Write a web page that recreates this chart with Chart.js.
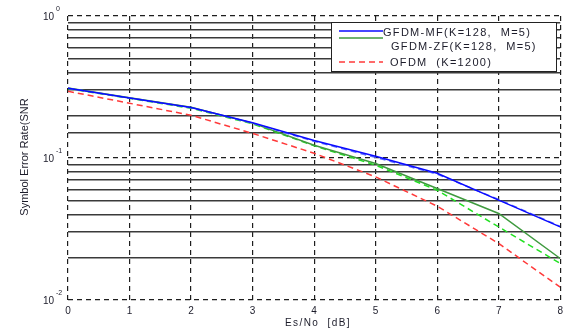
<!DOCTYPE html>
<html>
<head>
<meta charset="utf-8">
<script src="https://cdn.jsdelivr.net/npm/chart.js@4.4.1/dist/chart.umd.min.js"></script>
<style>
  html, body { margin: 0; padding: 0; background: #fff; }
  #wrap { width: 568px; height: 330px; }
</style>
</head>
<body>
<div id="wrap"><canvas id="chart" width="568" height="330"></canvas></div>
<script>
// values
const snrDb = [0, 1, 2, 3, 4, 5, 6, 7, 8];
const gfdmMf = [0.31, 0.265, 0.227, 0.177, 0.133, 0.103, 0.078, 0.0505, 0.0327];
const gfdmMfDashed = [0.31, 0.265, 0.226, 0.176, 0.131, 0.101, 0.077, 0.051, 0.033];
const gfdmZf = [0.311, 0.266, 0.228, 0.176, 0.123, 0.0915, 0.061, 0.0407, 0.0196];
const gfdmZfDashed = [0.308, 0.263, 0.224, 0.174, 0.122, 0.089, 0.0593, 0.0327, 0.0181];
const ofdm = [0.295, 0.243, 0.2, 0.149, 0.108, 0.0736, 0.0458, 0.025, 0.0123];

const yTickValues = [1, 0.1, 0.01];
const yTickExponents = ['0', '-1', '-2'];
const legendLabels = ['GFDM-MF(K=128,  M=5)', 'GFDM-ZF(K=128,  M=5)', 'OFDM  (K=1200)'];
const xTitle = 'Es/No  [dB]';
const yTitle = 'Symbol Error Rate(SNR';

const FONT = '"Liberation Sans", Arial, sans-serif';
const TEXT = '#1c1c2a';
const GRID = '#1e1e1e';

const isDecade = v => Math.abs(Math.log10(v) - Math.round(Math.log10(v))) < 1e-6;

function series(values) {
    return values.map((v, i) => ({ x: snrDb[i], y: v }));
}

const textPlugin = {
    id: 'textPlugin',
    afterDraw(chart) {
        const ctx = chart.ctx;
        const yScale = chart.scales.y;
        ctx.save();

        // y tick labels with superscripts
        ctx.fillStyle = TEXT;
        yTickValues.forEach((v, i) => {
            const py = yScale.getPixelForValue(v);
            ctx.font = '10px ' + FONT;
            ctx.textAlign = 'right';
            ctx.textBaseline = 'middle';
            ctx.fillText('10', 54, py + 1.5);
            ctx.font = '7px ' + FONT;
            ctx.textAlign = 'left';
            ctx.fillText(yTickExponents[i], 56, py - 7);
        });

        // axis titles
        ctx.font = '10px ' + FONT;
        ctx.letterSpacing = '1.4px';
        ctx.textAlign = 'center';
        ctx.textBaseline = 'middle';
        ctx.fillText(xTitle, 318, 323);

        ctx.letterSpacing = '0px';
        ctx.font = '11px ' + FONT;
        ctx.translate(25, 157);
        ctx.rotate(-Math.PI / 2);
        ctx.fillText(yTitle, 0, 0);
        ctx.setTransform(1, 0, 0, 1, 0, 0);

        // legend box
        ctx.fillStyle = '#fff';
        ctx.fillRect(331.5, 22.5, 225, 49);
        ctx.strokeStyle = '#222';
        ctx.lineWidth = 1;
        ctx.strokeRect(331.5, 22.5, 225, 49);

        const ds = chart.data.datasets;
        const rows = [
            { d: ds[0], ly: 31, tx: 383, ty: 33 },
            { d: ds[2], ly: 38, tx: 391, ty: 46.5 },
            { d: ds[4], ly: 62, tx: 390, ty: 62.5 }
        ];
        rows.forEach((r, i) => {
            ctx.strokeStyle = r.d.borderColor;
            ctx.lineWidth = 1.5;
            ctx.setLineDash(r.d.borderDash || []);
            ctx.beginPath();
            ctx.moveTo(339, r.ly);
            ctx.lineTo(383, r.ly);
            ctx.stroke();
            ctx.setLineDash([]);
            ctx.fillStyle = TEXT;
            ctx.font = '11px ' + FONT;
            ctx.letterSpacing = '1.3px';
            ctx.textAlign = 'left';
            ctx.textBaseline = 'middle';
            ctx.fillText(legendLabels[i], r.tx, r.ty);
        });
        ctx.restore();
    }
};

const ctx = document.getElementById('chart').getContext('2d');
new Chart(ctx, {
    type: 'line',
    data: {
        datasets: [
            { label: legendLabels[0], data: series(gfdmMf), borderColor: '#0a0aff', borderWidth: 1.5 },
            { label: 'GFDM-MF dashed', data: series(gfdmMfDashed), borderColor: '#5a6cff', borderWidth: 1.5, borderDash: [6, 4] },
            { label: legendLabels[1], data: series(gfdmZf), borderColor: '#3f9a3f', borderWidth: 1.5 },
            { label: 'GFDM-ZF dashed', data: series(gfdmZfDashed), borderColor: '#22e022', borderWidth: 1.5, borderDash: [6, 4] },
            { label: legendLabels[2], data: series(ofdm), borderColor: '#ff3a3a', borderWidth: 1.5, borderDash: [6, 4] }
        ]
    },
    options: {
        responsive: false,
        animation: false,
        layout: { padding: { top: 16, right: 6, left: 0, bottom: 0 } },
        elements: {
            point: { radius: 0 },
            line: { tension: 0, fill: false }
        },
        plugins: {
            legend: { display: false },
            tooltip: { enabled: false }
        },
        scales: {
            x: {
                type: 'linear',
                min: 0,
                max: 8,
                afterFit: s => { s.height = 30; },
                ticks: {
                    stepSize: 1,
                    color: TEXT,
                    font: { family: FONT, size: 10 },
                    padding: 5,
                    maxRotation: 0
                },
                grid: { color: GRID, lineWidth: 1.2, drawTicks: false },
                border: { display: false, dash: [5, 4] }
            },
            y: {
                type: 'logarithmic',
                min: 0.01,
                max: 1,
                afterFit: s => { s.width = 68; },
                ticks: { display: false, autoSkip: false },
                grid: {
                    color: c => (c.tick && isDecade(c.tick.value)) ? GRID : '#3a3a3a',
                    lineWidth: c => (c.tick && isDecade(c.tick.value)) ? 1.2 : 1.5,
                    drawTicks: false
                },
                border: {
                    display: false,
                    dash: c => (c.tick && isDecade(c.tick.value)) ? [5, 4] : []
                }
            }
        }
    },
    plugins: [textPlugin]
});
</script>
</body>
</html>
